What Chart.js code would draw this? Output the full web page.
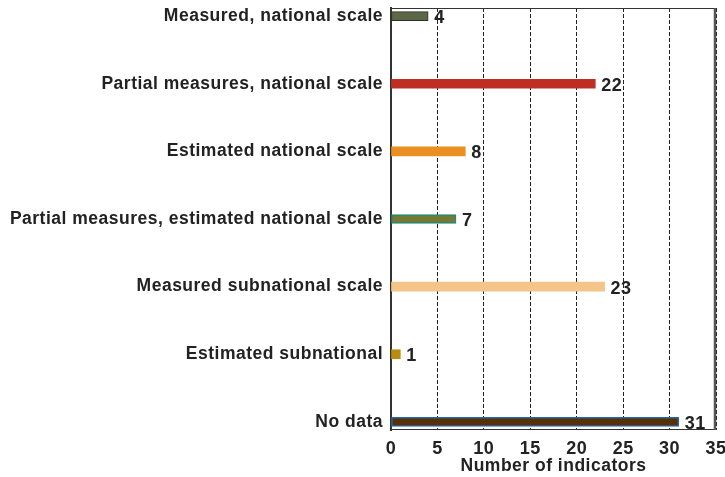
<!DOCTYPE html>
<html>
<head>
<meta charset="utf-8">
<script src="https://cdn.jsdelivr.net/npm/chart.js@4"></script>
<style>
  body { margin: 0; background: #fff; }
  #wrap { width: 725px; height: 477px; }
</style>
</head>
<body>
<div id="wrap"><canvas id="indicatorChart"></canvas></div>
<script>
// Categories, top to bottom
const categories = [
  "Measured, national scale",
  "Partial measures, national scale",
  "Estimated national scale",
  "Partial measures, estimated national scale",
  "Measured subnational scale",
  "Estimated subnational",
  "No data"
];
const counts = [4, 22, 8, 7, 23, 1, 31];
const xTicks = [0, 5, 10, 15, 20, 25, 30, 35];

const fillColors = ["#5c6845", "#bf2e25", "#ea8f22", "#737a32", "#f4c488", "#b78c0f", "#5a3000"];
const edgeColors = ["#2f2f2f", "#bf2e25", "#ea8f22", "#23897a", "#f4c488", "#b78c0f", "#2366b4"];
const edgeWidths = [1, 0, 0, 1.5, 0, 0, 1.5];

const FONT = "'Liberation Sans', Arial, sans-serif";
const textColor = "#222";

// the original lettering is a little wider than Arial
const spacing = {
  id: "spacing",
  beforeInit(chart) { chart.ctx.letterSpacing = "0.5px"; },
  beforeDraw(chart) { chart.ctx.letterSpacing = "0.5px"; }
};

// values at the end of each bar
const valueLabels = {
  id: "valueLabels",
  afterDatasetsDraw(chart) {
    const ctx = chart.ctx;
    const meta = chart.getDatasetMeta(0);
    ctx.save();
    ctx.font = "bold 18px " + FONT;
    ctx.fillStyle = textColor;
    ctx.textAlign = "left";
    ctx.textBaseline = "middle";
    meta.data.forEach((bar, i) => {
      ctx.fillText(String(counts[i]), bar.x + 6, bar.y + 2);
    });
    ctx.restore();
  }
};

// frame round the plot area
const frame = {
  id: "frame",
  afterDraw(chart) {
    const a = chart.chartArea;
    const ctx = chart.ctx;
    ctx.save();
    ctx.strokeStyle = "#333";
    ctx.lineWidth = 1;
    ctx.beginPath();
    ctx.moveTo(a.left, a.top + 0.5);
    ctx.lineTo(a.right, a.top + 0.5);
    ctx.moveTo(a.left, a.bottom - 0.5);
    ctx.lineTo(a.right, a.bottom - 0.5);
    ctx.stroke();
    ctx.lineWidth = 2.5;
    ctx.strokeStyle = "#555";
    ctx.beginPath();
    ctx.moveTo(a.right - 1, a.top);
    ctx.lineTo(a.right - 1, a.bottom);
    ctx.stroke();
    ctx.restore();
  }
};

new Chart(document.getElementById("indicatorChart"), {
  type: "bar",
  data: {
    datasets: [{
      data: counts.map((v, i) => ({ x: v, y: i })),
      backgroundColor: fillColors,
      borderColor: edgeColors,
      borderWidth: edgeWidths,
      borderSkipped: false,
      barThickness: 9
    }]
  },
  options: {
    indexAxis: "y",
    responsive: true,
    maintainAspectRatio: false,
    animation: false,
    layout: { padding: { left: 8, top: 8, right: 9, bottom: 0 } },
    plugins: {
      legend: { display: false },
      tooltip: { enabled: false }
    },
    scales: {
      x: {
        type: "linear",
        min: 0,
        max: 35,
        afterBuildTicks: (axis) => { axis.ticks = xTicks.map(v => ({ value: v })); },
        ticks: {
          color: textColor,
          font: { family: FONT, size: 18, weight: "bold" },
          padding: 8,
          maxRotation: 0
        },
        grid: { color: "#222", lineWidth: 1, drawTicks: false },
        border: { display: false, dash: [4, 2] },
        title: {
          display: true,
          text: "Number of indicators",
          color: textColor,
          font: { family: FONT, size: 17.5, weight: "bold" },
          padding: { top: 0, bottom: 0 }
        },
        afterFit: (s) => { s.height = 47; s.paddingLeft = 0; s.paddingRight = 0; }
      },
      y: {
        type: "linear",
        offset: false,
        reverse: true,
        min: -0.12,
        max: 6.12,
        afterBuildTicks: (axis) => { axis.ticks = categories.map((c, i) => ({ value: i })); },
        ticks: {
          color: textColor,
          font: { family: FONT, size: 17.5, weight: "bold" },
          padding: 8,
          callback: (v) => categories[v]
        },
        grid: { display: false, drawTicks: false },
        border: { display: true, color: "#333", width: 2 },
        afterFit: (s) => { s.width = 383; s.paddingTop = 0; s.paddingBottom = 0; }
      }
    }
  },
  plugins: [spacing, valueLabels, frame]
});
</script>
</body>
</html>
